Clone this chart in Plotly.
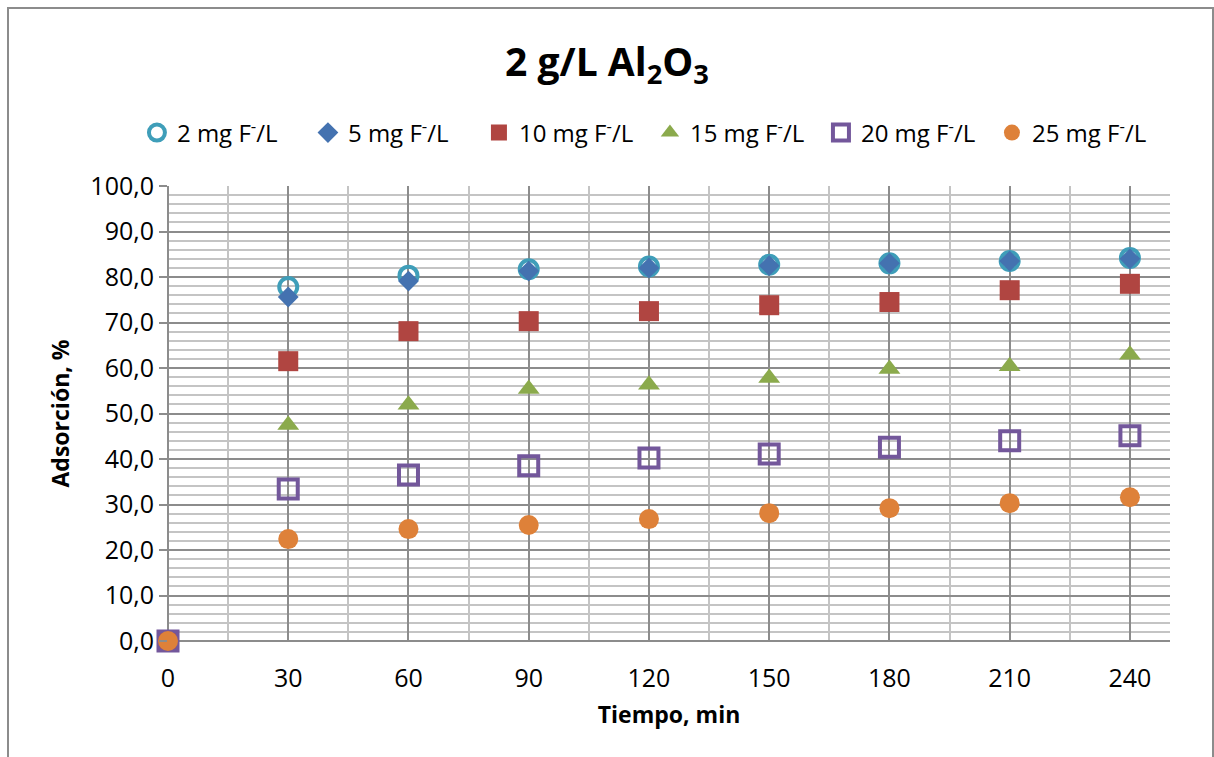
import plotly.graph_objects as go

tiempo = [0, 30, 60, 90, 120, 150, 180, 210, 240]
s2 = [0, 77.8, 80.3, 81.7, 82.3, 82.7, 83.0, 83.5, 84.2]
s5 = [0, 75.6, 79.1, 81.3, 82.0, 82.5, 83.0, 83.5, 84.0]
s10 = [0, 61.5, 68.1, 70.3, 72.5, 73.8, 74.5, 77.1, 78.5]
s15 = [0, 47.5, 51.9, 55.4, 56.3, 57.8, 59.8, 60.4, 62.9]
s20 = [0, 33.4, 36.5, 38.5, 40.2, 41.1, 42.6, 44.0, 45.1]
s25 = [0, 22.4, 24.6, 25.5, 26.8, 28.1, 29.2, 30.3, 31.6]

names = ["2 mg F<sup>-</sup>/L", "5 mg F<sup>-</sup>/L", "10 mg F<sup>-</sup>/L",
         "15 mg F<sup>-</sup>/L", "20 mg F<sup>-</sup>/L", "25 mg F<sup>-</sup>/L"]

FONT = "Open Sans"

fig = go.Figure()
styles = [
    (s2, dict(symbol="circle-open", size=18, color="#3F9EB9", line=dict(width=4, color="#3F9EB9"))),
    (s5, dict(symbol="diamond", size=16, color="#4472B0")),
    (s10, dict(symbol="square", size=20, color="#B04541")),
    (s15, dict(symbol="triangle-up", size=19, color="#8BAA4C")),
    (s20, dict(symbol="square-open", size=19, color="#73579B", line=dict(width=4, color="#73579B"))),
    (s25, dict(symbol="circle", size=20, color="#DE8139")),
]
for (vals, mk), nm in zip(styles, names):
    fig.add_trace(go.Scatter(x=tiempo, y=vals, mode="markers", name=nm, marker=mk,
                             cliponaxis=False))

fig.update_layout(
    width=1214, height=757,
    margin=dict(l=168, r=44, t=186, b=116),
    paper_bgcolor="white", plot_bgcolor="white",
    font=dict(family=FONT, size=25, color="black"),
    separators=", ",
    title=dict(text="<b>2 g/L Al<sub>2</sub>O<sub>3</sub></b>", x=0.5, xanchor="center",
               y=0.918, yanchor="middle", font=dict(size=39, family=FONT)),
    legend=dict(orientation="h", x=-0.031, xanchor="left", y=1.1165, yanchor="middle",
                font=dict(size=24, family=FONT), itemsizing="trace",
                entrywidth=126, entrywidthmode="pixels", traceorder="normal"),
    showlegend=True,
)
fig.update_xaxes(
    range=[0, 250], tickmode="array", tickvals=[0, 30, 60, 90, 120, 150, 180, 210, 240],
    showgrid=True, gridcolor="#8c8c8c", gridwidth=1.5,
    minor=dict(tickmode="array", tickvals=[15, 45, 75, 105, 135, 165, 195, 225],
               showgrid=True, gridcolor="#c4c4c4", gridwidth=1.5),
    ticks="", showline=False, zeroline=True, zerolinecolor="#8c8c8c", zerolinewidth=1.5,
    tickfont=dict(size=25), ticklabelstandoff=20,
    title=dict(text="<b>Tiempo, min</b>", font=dict(size=23), standoff=13),
)
fig.update_yaxes(
    range=[0, 100], dtick=10, tickformat=".1f",
    showgrid=True, gridcolor="#8c8c8c", gridwidth=1.5,
    minor=dict(dtick=2, showgrid=True, gridcolor="#c4c4c4", gridwidth=1.5),
    ticks="outside", ticklen=8, tickcolor="#8c8c8c", tickwidth=1.5,
    showline=False, zeroline=True, zerolinecolor="#8c8c8c", zerolinewidth=1.5,
    tickfont=dict(size=25),
    title=dict(text="<b>Adsorción, %</b>", font=dict(size=23), standoff=14),
)
fig.add_shape(type="rect", xref="paper", yref="paper",
              x0=(8 - 168) / 1002, x1=(1213 - 168) / 1002,
              y0=(641 - 760) / 455, y1=(641 - 8) / 455,
              line=dict(color="#8c8c8c", width=2), layer="below")

fig.write_html("out.html")
